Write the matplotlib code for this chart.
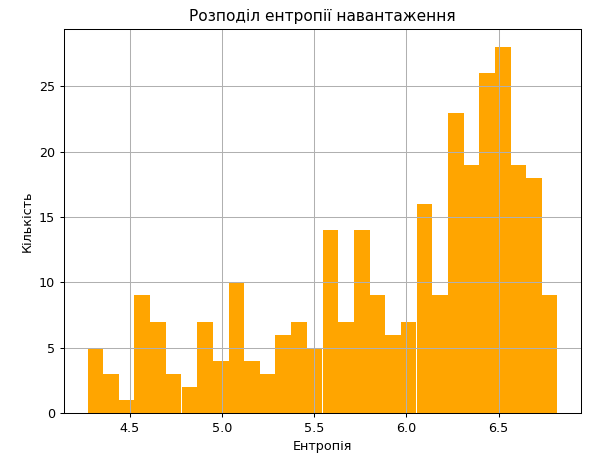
import numpy as np
import matplotlib
matplotlib.use("Agg")
import matplotlib.pyplot as plt

# histogram of load entropy, 30 bins
entropy_min = 4.27
entropy_max = 6.82
counts = [5, 3, 1, 9, 7, 3, 2, 7, 4, 10,
          4, 3, 6, 7, 5, 14, 7, 14, 9, 6,
          7, 16, 9, 23, 19, 26, 28, 19, 18, 9]

edges = np.linspace(entropy_min, entropy_max, len(counts) + 1)
centers = (edges[:-1] + edges[1:]) / 2

fig, ax = plt.subplots(figsize=(589 / 92, 464 / 92), dpi=92)
ax.hist(centers, bins=edges, weights=counts, color="orange")
ax.set_title("Розподіл ентропії навантаження")
ax.set_xlabel("Ентропія")
ax.set_ylabel("Кількість")
ax.grid(True)

fig.subplots_adjust(left=64 / 589, right=581 / 589, top=1 - 29 / 464, bottom=1 - 413 / 464)
fig.savefig("out.png", dpi=92)
